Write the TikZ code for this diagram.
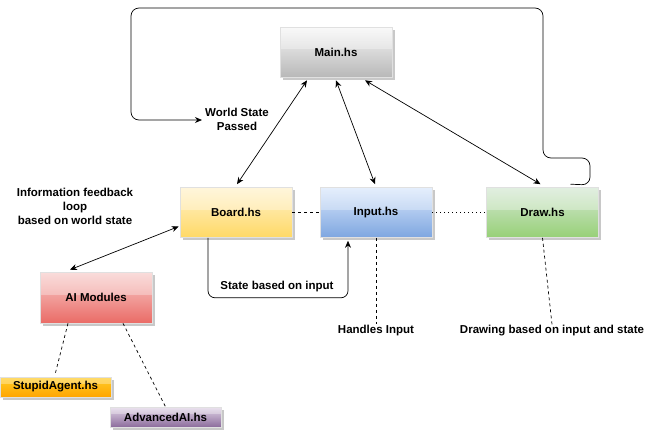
\documentclass[tikz,border=0pt]{standalone}
\usepackage{fontspec}
\setmainfont{Liberation Sans}
\usetikzlibrary{arrows.meta,shadows}
\definecolor{mainT}{HTML}{F7F7F7}\definecolor{mainB}{HTML}{B8B8B8}
\definecolor{boardT}{HTML}{FFF2CC}\definecolor{boardB}{HTML}{FFD966}
\definecolor{inputT}{HTML}{DAE8FC}\definecolor{inputB}{HTML}{7EA6E0}
\definecolor{drawT}{HTML}{D5E8D4}\definecolor{drawB}{HTML}{97D077}
\definecolor{aiT}{HTML}{F8CECC}\definecolor{aiB}{HTML}{EA6B66}
\definecolor{stT}{HTML}{FFCD28}\definecolor{stB}{HTML}{FFA500}
\definecolor{advT}{HTML}{E1D5E7}\definecolor{advB}{HTML}{8C6C9C}
\begin{document}
\begin{tikzpicture}[x=1pt,y=-1pt,
  font=\bfseries\fontsize{11.5}{14}\selectfont,
  box/.style={rectangle, minimum width=112pt, minimum height=50pt, inner sep=0pt,
    draw=black!12, line width=0.6pt,
    drop shadow={shadow xshift=2.5pt,shadow yshift=-2.5pt,opacity=0.3,fill=black!70},
    path picture={\fill[white,opacity=0.3] (path picture bounding box.north west) rectangle ([yshift=3pt]path picture bounding box.east);}},
  smallbox/.style={box, minimum width=111pt, minimum height=20pt},
  conn/.style={line width=0.7pt},
  arr/.style={conn,-{Stealth[length=7pt,width=6pt]}},
  darr/.style={conn,{Stealth[length=7pt,width=6pt]}-{Stealth[length=7pt,width=6pt]}},
  dsh/.style={conn,dash pattern=on 3pt off 3pt},
  dot/.style={conn,dash pattern=on 1pt off 3pt},
  lbl/.style={align=center, inner sep=2pt}]
\useasboundingbox (0,0) rectangle (671,434);
\fill[white] (0,0) rectangle (671,434);

% boxes
\node[box, top color=mainT, bottom color=mainB] (main) at (336,52) {Main.hs};
\node[box, top color=boardT, bottom color=boardB] (board) at (236,212.5) {Board.hs};
\node[box, top color=inputT, bottom color=inputB] (input) at (376,212.5) {Input.hs};
\node[box, top color=drawT, bottom color=drawB] (draw) at (542.5,212.5) {Draw.hs};
\node[box, minimum height=51pt, top color=aiT, bottom color=aiB] (ai) at (96,297.5) {AI Modules};
\node[smallbox, top color=stT, bottom color=stB] (stupid) at (55.5,387) {StupidAgent.hs};
\node[smallbox, top color=advT, bottom color=advB] (adv) at (165.5,417) {AdvancedAI.hs};

% labels
\node[lbl] (wsp) at (237,119) {World State\\Passed};
\node[lbl] (info) at (75,206) {Information feedback\\loop\\based on world state};
\node[lbl] (sbi) at (277,287) {State based on input};
\node[lbl] (hin) at (376,331) {Handles Input};
\node[lbl] (dbi) at (552,331) {Drawing based on input and state};

% arrows from Main
\draw[darr] ([xshift=-29pt,yshift=-3pt]main.south) -- ([xshift=1pt,yshift=3pt]board.north);
\draw[darr] ([yshift=-3pt]main.south) -- ([xshift=-1pt,yshift=3pt]input.north);
\draw[darr] ([xshift=29pt,yshift=-3pt]main.south) -- ([xshift=-2pt,yshift=3pt]draw.north);

% Board <-> AI
\draw[darr] ([xshift=-1pt,yshift=-14pt]board.west) -- ([xshift=-26pt,yshift=2pt]ai.north);

% Board -> Input loop
\draw[arr, rounded corners=7pt] ([xshift=-28pt]board.south) -- ++(0,60) -| ([xshift=-28pt,yshift=-3pt]input.south);

% dashed / dotted links
\draw[dsh] (board.east) -- (input.west);
\draw[dot] (input.east) -- (draw.west);
\draw[dsh] (input.south) -- ([yshift=-1pt]hin.north);
\draw[dsh] (draw.south) -- ([yshift=-1pt]dbi.north);
\draw[dsh] ([xshift=-28pt]ai.south) -- ([yshift=4pt]stupid.north);
\draw[dsh] ([xshift=27pt]ai.south) -- (adv.north);

% world state loop
\draw[arr, rounded corners=8pt] ([xshift=28pt,yshift=3pt]draw.north) -- (590,185) -- (590,158) -- (543,158) -- (543,8) -- (131,8) -- (131,120) -- ([xshift=-1pt]wsp.west |- 0,120);
\end{tikzpicture}
\end{document}
